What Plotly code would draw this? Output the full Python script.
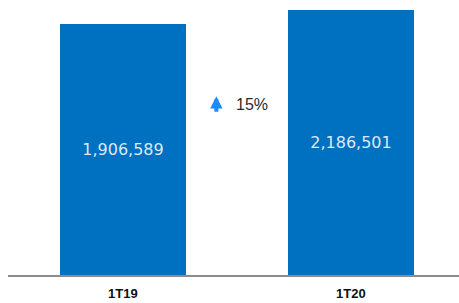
import plotly.graph_objects as go

categories = ["1T19", "1T20"]
values = [1906589, 2186501]
value_labels = ["1,906,589", "2,186,501"]
change_label = "15%"
axis_floor = -3110000  # visual floor of the value axis in the original chart

bar_color = "#0070C0"
arrow_color = "#1a8cff"

fig = go.Figure()
fig.add_trace(go.Bar(
    x=categories,
    y=[v - axis_floor for v in values],
    base=axis_floor,
    width=0.553,
    marker=dict(color=bar_color, line=dict(width=0)),
    text=value_labels,
    textposition="inside",
    insidetextanchor="middle",
    textangle=0,
    insidetextfont=dict(family="DejaVu Sans", size=16, color="#dce9f6"),
    hoverinfo="skip",
))

# up arrow drawn as an annotation arrow
fig.add_annotation(
    x=0.462, y=0.675, xref="paper", yref="paper",
    ax=0, ay=17, axref="pixel", ayref="pixel",
    text="", showarrow=True,
    arrowhead=2, arrowsize=0.62, arrowwidth=4, arrowcolor=arrow_color,
    standoff=0, startstandoff=0,
)
fig.add_annotation(
    x=0.54, y=0.643, xref="paper", yref="paper",
    xanchor="center", yanchor="middle",
    text=change_label,
    showarrow=False,
    font=dict(family="Liberation Sans, Arial", size=16, color="#2a2a2a"),
)

fig.update_layout(
    width=459, height=303,
    margin=dict(l=8, r=0, t=10, b=28),
    paper_bgcolor="white", plot_bgcolor="white",
    showlegend=False,
    bargap=0,
    xaxis=dict(
        range=[-0.504, 1.474],
        showline=True, linecolor="#8c8c8c", linewidth=2,
        showgrid=False, zeroline=False, ticks="",
        ticklabelstandoff=5,
        tickfont=dict(family="Liberation Sans, Arial", size=13, color="#111111", weight="bold"),
    ),
    yaxis=dict(
        range=[axis_floor, max(values)],
        visible=False, showgrid=False, zeroline=False,
    ),
)

fig.write_html(
    "out.html",
    config={"displayModeBar": False},
    post_script="document.body.style.margin='0';document.body.style.padding='0';",
)
